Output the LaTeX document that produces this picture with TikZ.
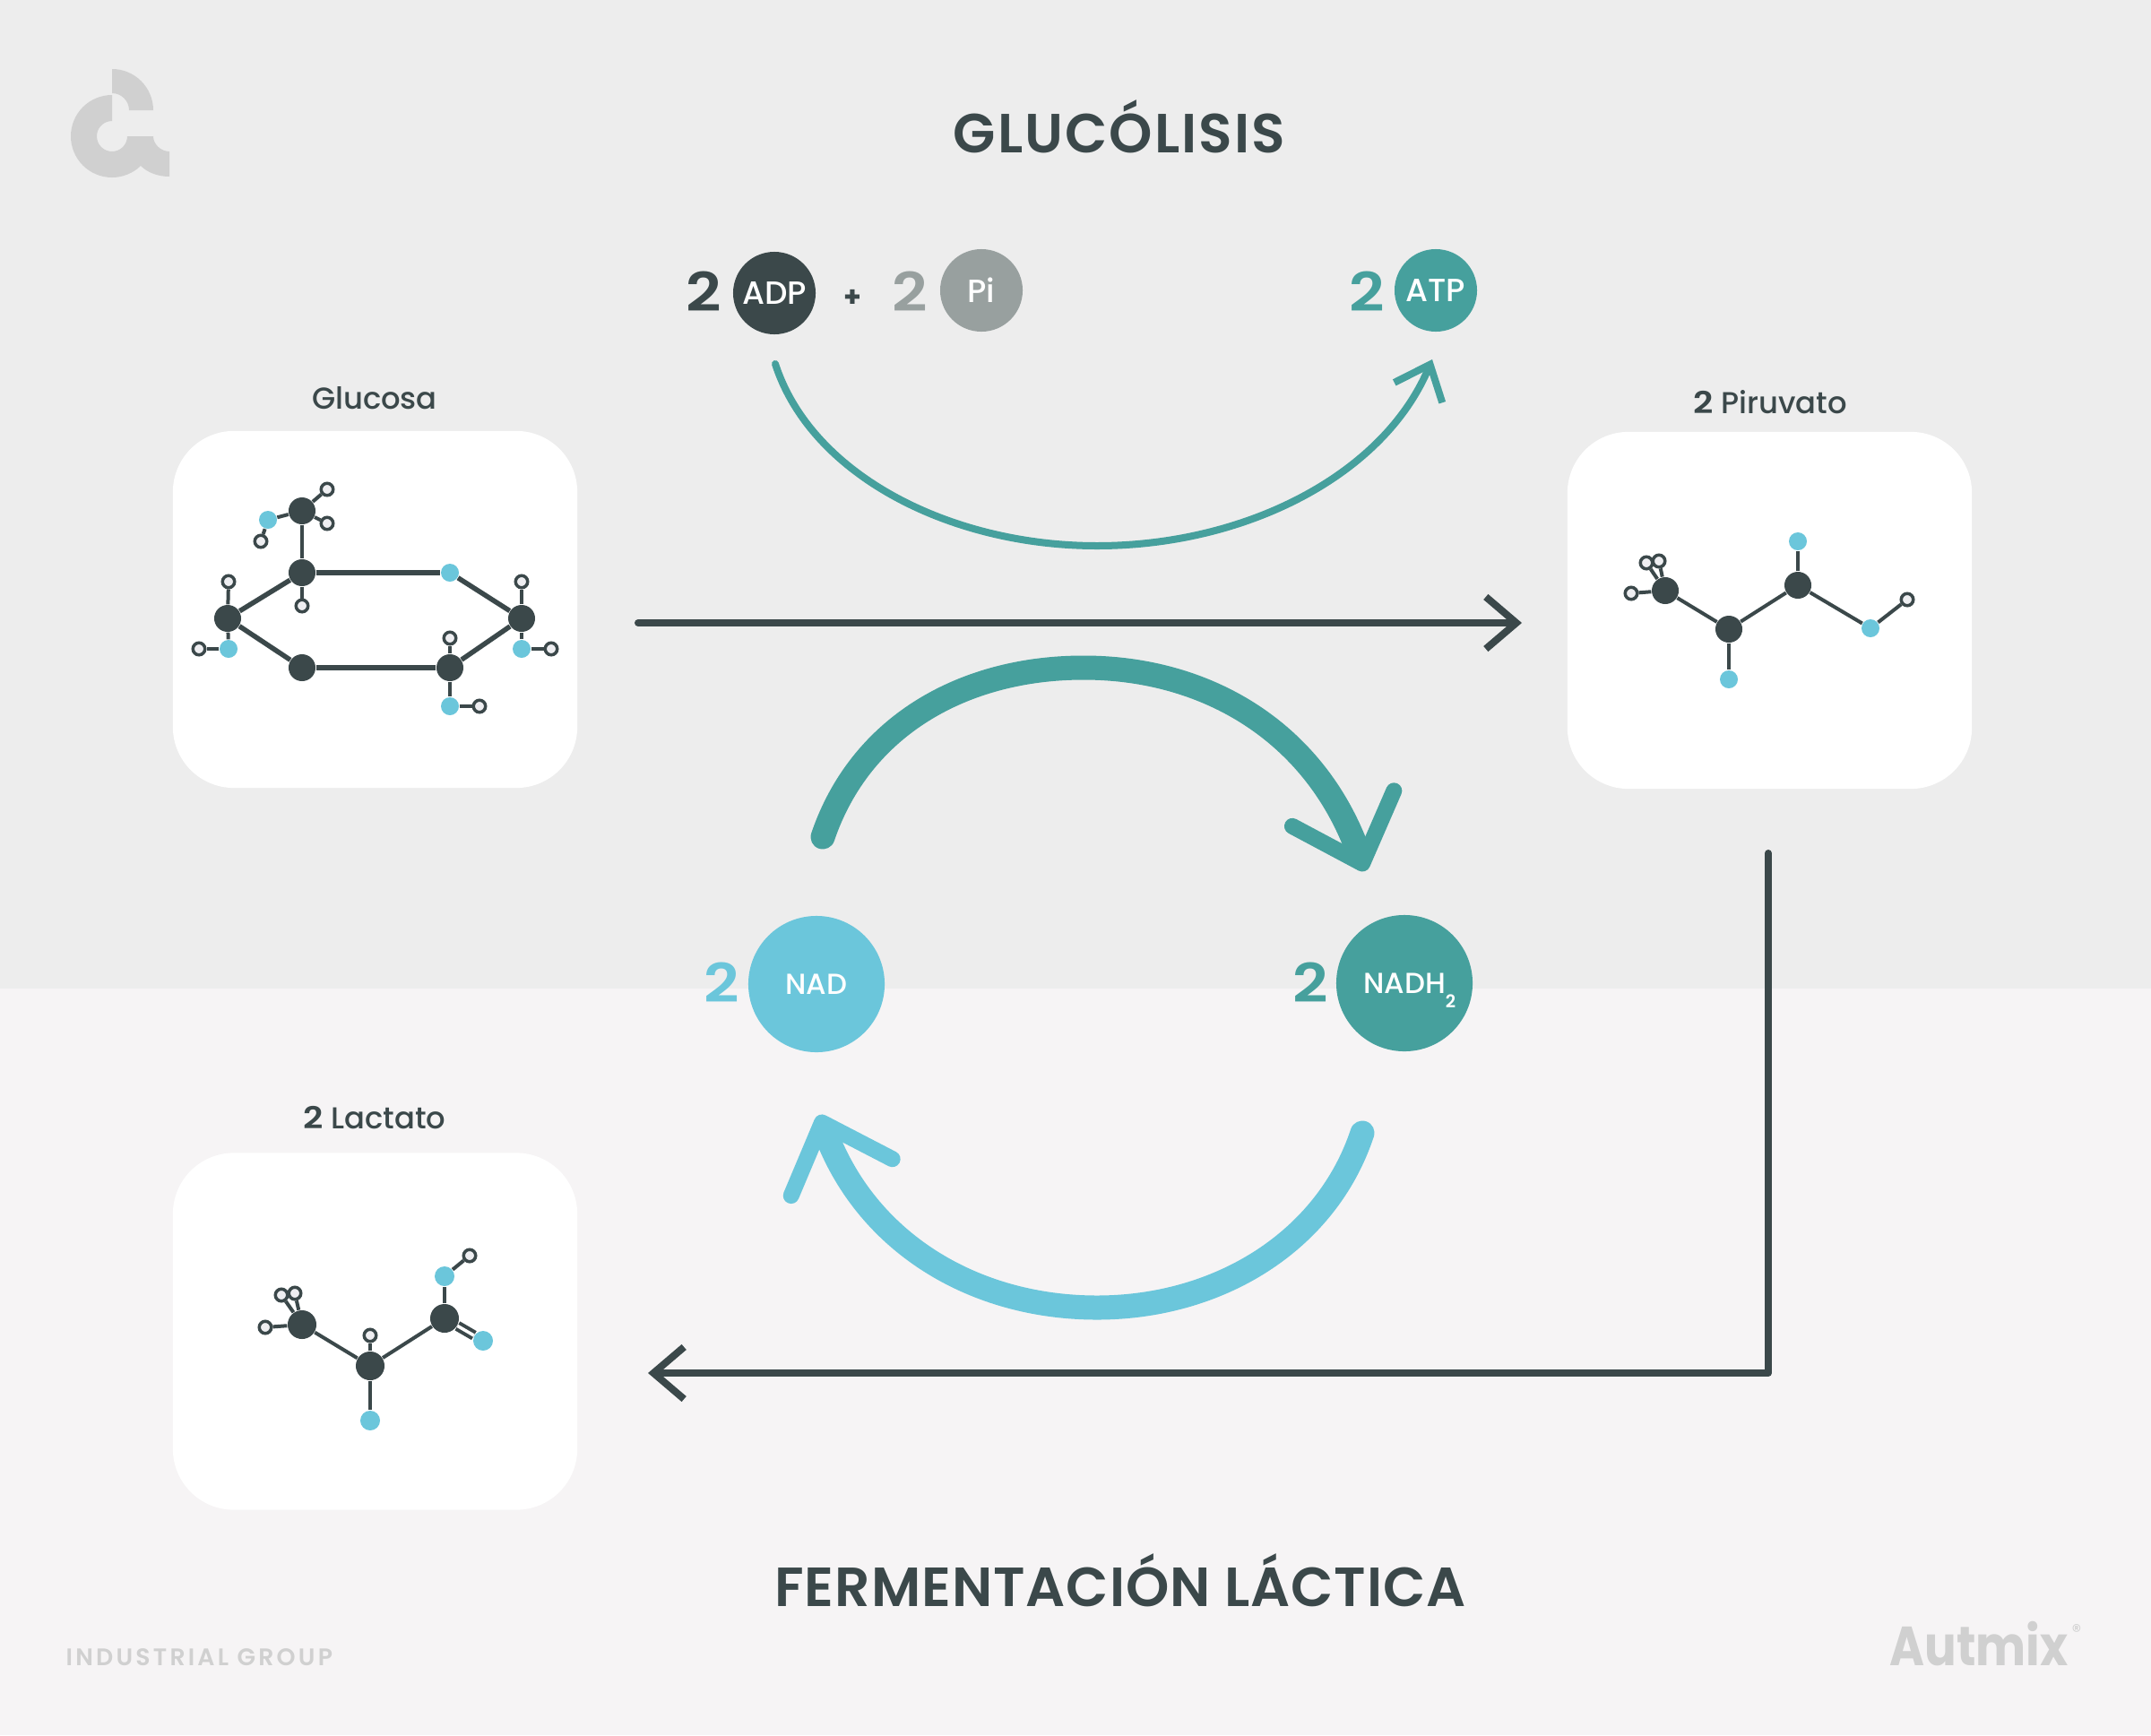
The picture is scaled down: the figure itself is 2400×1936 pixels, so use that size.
\documentclass[tikz,border=0pt]{standalone}
\usepackage{fontspec}
\setmainfont{Poppins}
\newfontfamily\semifont{Poppins}[UprightFont=* SemiBold]
\newfontfamily\medfont{Poppins}[UprightFont=* Medium]
\newfontfamily\coeffont{Poppins}[UprightFont=* SemiBold, FakeStretch=1.15]
\newfontfamily\brandfont{Poppins}[UprightFont=* Bold, FakeStretch=0.86]
\usetikzlibrary{arrows.meta, positioning}
\definecolor{inkdark}{RGB}{59,72,74}
\definecolor{inkteal}{RGB}{70,160,157}
\definecolor{inkblue}{RGB}{107,198,219}
\definecolor{inkgrey}{RGB}{152,160,159}
\definecolor{inkfaint}{RGB}{208,208,208}
\definecolor{bgtop}{RGB}{237,237,237}
\definecolor{bgbottom}{RGB}{246,244,245}
\definecolor{atomH}{RGB}{238,238,241}
\tikzset{
  cardbox/.style   = {rectangle, rounded corners=0.68cm, fill=white,
                      minimum width=4.51cm, minimum height=3.98cm, inner sep=0pt},
  carbon/.style    = {circle, fill=inkdark, minimum size=0.30cm, inner sep=0pt},
  oxygen/.style    = {circle, fill=inkblue, minimum size=0.20cm, inner sep=0pt},
  hydrogen/.style  = {circle, draw=inkdark, line width=0.035cm, fill=atomH,
                      minimum size=0.135cm, inner sep=0pt},
  bond/.style      = {draw=inkdark, line width=0.04cm},
  ringbond/.style  = {draw=inkdark, line width=0.055cm},
  coef/.style      = {font=\coeffont\fontsize{17}{17}\selectfont},
  ballA/.style     = {circle, minimum size=0.92cm, inner sep=0pt, text=white,
                      font=\medfont\fontsize{10.2}{10.2}\selectfont},
  ballB/.style     = {circle, minimum size=1.52cm, inner sep=0pt, text=white,
                      font=\medfont\fontsize{9.2}{9.2}\selectfont},
  cardlabel/.style = {text=inkdark, font=\medfont\fontsize{9.6}{9.6}\selectfont},
  heading/.style   = {text=inkdark, anchor=base, font=\semifont\fontsize{17.5}{17.5}\selectfont},
  thinarrow/.style = {line width=0.08cm, line cap=round,
                      -{Straight Barb[length=3.4mm,width=5.8mm]}},
  thickarrow/.style = {line width=0.27cm, line cap=round,
                      -{Straight Barb[length=6.5mm,width=12mm,line width=0.18cm,round]}},
}

\begin{document}
\begin{tikzpicture}[x=0.01cm, y=-0.01cm]
    \useasboundingbox (0,0) rectangle (2400,1936);

    % ── Backgrounds ───────────────────────────────────────────────
    \fill[bgtop]    (0,0)    rectangle (2400,1103);
    \fill[bgbottom] (0,1103) rectangle (2400,1936);

    % ── Logo and marks ────────────────────────────────────────────
    \fill[inkfaint] (125,77) .. controls (150.4,77) and (171,97.6) .. (171,123)
      -- (144,123) .. controls (144,112.5) and (135.5,104) .. (125,104) -- cycle;
    \fill[inkfaint] (125,106) .. controls (99.6,106) and (79,126.6) .. (79,152)
      .. controls (79,177.4) and (99.6,198) .. (125,198)
      .. controls (137,198) and (149,193) .. (157,185)
      .. controls (165,193) and (177,197) .. (189,197)
      -- (189,169) .. controls (179.6,169) and (171,161) .. (171,152)
      -- (142,152) .. controls (142,161.4) and (134.4,169) .. (125,169)
      .. controls (115.6,169) and (108,161.4) .. (108,152)
      .. controls (108,142.6) and (115.6,135) .. (125,135) -- cycle;
    \node[anchor=base west, inner sep=0pt, text=inkfaint,
          font=\semifont\fontsize{7.6}{7.6}\selectfont] (group) at (73,1858)
      {\addfontfeature{LetterSpace=12}INDUSTRIAL GROUP};
    \node[anchor=base east, inner sep=0pt, text=inkfaint,
          font=\brandfont\fontsize{17.5}{17.5}\selectfont] (brand) at (2308,1858) {Autmix};
    \node[inner sep=0pt, text=inkfaint, font=\fontsize{6}{6}\selectfont] (reg) at (2317,1820) {®};

    % ── Titles ────────────────────────────────────────────────────
    \node[heading] (glucolisis) at (1249,170) {\addfontfeature{LetterSpace=3.4}GLUCÓLISIS};
    \node[heading] (fermenta)   at (1250,1792) {\addfontfeature{LetterSpace=1.6}FERMENTACIÓN LÁCTICA};

    % ── Cards ─────────────────────────────────────────────────────
    \node[cardbox] (glucosa)  at (418.5,680)  {};
    \node[cardbox] (piruvato) at (1974.5,681) {};
    \node[cardbox] (lactato)  at (418.5,1485.5) {};
    \node[cardlabel] (lblglu) at (418,444)  {Glucosa};
    \node[cardlabel] (lblpir) at (1975,449) {{\coeffont 2} Piruvato};
    \node[cardlabel] (lbllac) at (418,1247) {{\coeffont 2} Lactato};

    % ── Glucosa ───────────────────────────────────────────────────
    \node[carbon]   (g1) at (337,570) {};
    \node[oxygen]   (g2) at (299,580) {};
    \node[hydrogen] (g3) at (291,604) {};
    \node[hydrogen] (g4) at (365,546) {};
    \node[hydrogen] (g5) at (365,584) {};
    \node[carbon]   (g6) at (337,639) {};
    \node[hydrogen] (g7) at (337,676) {};
    \node[oxygen]   (g8) at (502,639) {};
    \node[carbon]   (g9) at (582,690) {};
    \node[hydrogen] (g10) at (582,649) {};
    \node[oxygen]   (g11) at (582,724) {};
    \node[hydrogen] (g12) at (615,724) {};
    \node[carbon]   (g13) at (502,745) {};
    \node[hydrogen] (g14) at (502,712) {};
    \node[oxygen]   (g15) at (502,788) {};
    \node[hydrogen] (g16) at (535,788) {};
    \node[carbon]   (g17) at (337,745) {};
    \node[carbon]   (g18) at (254,690) {};
    \node[hydrogen] (g19) at (255,649) {};
    \node[oxygen]   (g20) at (255,724) {};
    \node[hydrogen] (g21) at (222,724) {};
    \draw[bond] (g1) -- (g2);
    \draw[bond] (g2) -- (g3);
    \draw[bond] (g1) -- (g4);
    \draw[bond] (g1) -- (g5);
    \draw[bond] (g1) -- (g6);
    \draw[bond] (g6) -- (g7);
    \draw[ringbond] (g6) -- (g8);
    \draw[ringbond] (g8) -- (g9);
    \draw[bond] (g9) -- (g10);
    \draw[bond] (g9) -- (g11);
    \draw[bond] (g11) -- (g12);
    \draw[ringbond] (g9) -- (g13);
    \draw[bond] (g13) -- (g14);
    \draw[bond] (g13) -- (g15);
    \draw[bond] (g15) -- (g16);
    \draw[ringbond] (g13) -- (g17);
    \draw[ringbond] (g17) -- (g18);
    \draw[ringbond] (g18) -- (g6);
    \draw[bond] (g18) -- (g19);
    \draw[bond] (g18) -- (g20);
    \draw[bond] (g20) -- (g21);

    % ── Piruvato ──────────────────────────────────────────────────
    \node[carbon]   (p1) at (1858,659) {};
    \node[hydrogen] (p2) at (1837,628) {};
    \node[hydrogen] (p3) at (1851,626) {};
    \node[hydrogen] (p4) at (1820,662) {};
    \node[carbon]   (p5) at (1929,702) {};
    \node[oxygen]   (p6) at (1929,758) {};
    \node[carbon]   (p7) at (2006,653) {};
    \node[oxygen]   (p8) at (2006,604) {};
    \node[oxygen]   (p9) at (2087,701) {};
    \node[hydrogen] (p10) at (2128,669) {};
    \draw[bond] (p1) -- (p2);
    \draw[bond] (p1) -- (p3);
    \draw[bond] (p1) -- (p4);
    \draw[bond] (p1) -- (p5);
    \draw[bond] (p5) -- (p6);
    \draw[bond] (p5) -- (p7);
    \draw[bond] (p7) -- (p8);
    \draw[bond] (p7) -- (p9);
    \draw[bond] (p9) -- (p10);

    % ── Lactato ───────────────────────────────────────────────────
    \node[carbon, minimum size=0.32cm]   (l1) at (337,1478) {};
    \node[hydrogen] (l2) at (314,1445) {};
    \node[hydrogen] (l3) at (329,1443) {};
    \node[hydrogen] (l4) at (296,1481) {};
    \node[carbon, minimum size=0.32cm]   (l5) at (413,1524) {};
    \node[hydrogen] (l6) at (413,1490) {};
    \node[oxygen, minimum size=0.22cm]   (l7) at (413,1585) {};
    \node[carbon, minimum size=0.32cm]   (l8) at (496,1471) {};
    \node[oxygen, minimum size=0.22cm]   (l9) at (496,1424) {};
    \node[hydrogen] (l10) at (524,1401) {};
    \node[oxygen, minimum size=0.22cm]   (l11) at (539,1496) {};
    \draw[bond] (l1) -- (l2);
    \draw[bond] (l1) -- (l3);
    \draw[bond] (l1) -- (l4);
    \draw[bond] (l1) -- (l5);
    \draw[bond] (l5) -- (l6);
    \draw[bond] (l5) -- (l7);
    \draw[bond] (l5) -- (l8);
    \draw[bond] (l8) -- (l9);
    \draw[bond] (l9) -- (l10);
    \draw[bond, double=white, double distance=0.035cm] (l8) -- (l11);

    % ── Cofactors ─────────────────────────────────────────────────
    \node[ballA, fill=inkdark] (adp) at (864,327) {ADP};
    \node[ballA, fill=inkgrey] (pi)  at (1095,324) {Pi};
    \node[ballA, fill=inkteal] (atp) at (1602,324) {ATP};
    \node[ballB, fill=inkblue] (nad) at (911,1098) {NAD};
    \node[ballB, fill=inkteal] (nadh) at (1567,1097)
      {NADH\rlap{\smash{\raisebox{-4.5pt}{\semifont\fontsize{5.6}{5.6}\selectfont 2}}}};
    \node[coef, text=inkdark] (nadp)  at (785,325)  {2};
    \node[coef, text=inkgrey] (npi)   at (1015,325) {2};
    \node[coef, text=inkteal] (natp)  at (1525,325) {2};
    \node[coef, text=inkblue] (nnad)  at (805,1096) {2};
    \node[coef, text=inkteal] (nnadh) at (1462,1096) {2};
    \node[text=inkdark, inner sep=0pt, font=\bfseries\fontsize{9}{9}\selectfont] (plus) at (951,333) {+};

    % ── Arrows ────────────────────────────────────────────────────
    \coordinate (atpstart) at (865,406);
    \coordinate (atpend)   at (1598,401);
    \draw[thinarrow, draw=inkteal] (atpstart)
      .. controls (905,530) and (1060,609) .. (1224,609)
      .. controls (1390,609) and (1544,530) .. (atpend);

    \coordinate (mainstart) at (712,695);
    \coordinate (mainend)   at (1698,695);
    \draw[thinarrow, draw=inkdark] (mainstart) -- (mainend);

    \coordinate (backstart) at (1973,952);
    \coordinate (backcorner) at (1973,1532);
    \coordinate (backend)   at (723,1532);
    \draw[thinarrow, draw=inkdark, line join=round] (backstart) -- (backcorner) -- (backend);

    \coordinate (nadstart) at (918,934);
    \coordinate (nadend)   at (1523,972);
    \draw[thickarrow, draw=inkteal] (nadstart)
      .. controls (960,810) and (1075,745) .. (1209,745)
      .. controls (1350,745) and (1470,820) .. (nadend);

    \coordinate (nadhstart) at (1520,1264);
    \coordinate (nadhend)   at (914,1244);
    \draw[thickarrow, draw=inkblue] (nadhstart)
      .. controls (1480,1385) and (1360,1459) .. (1224,1459)
      .. controls (1085,1459) and (965,1385) .. (nadhend);

  \end{tikzpicture}
\end{document}
